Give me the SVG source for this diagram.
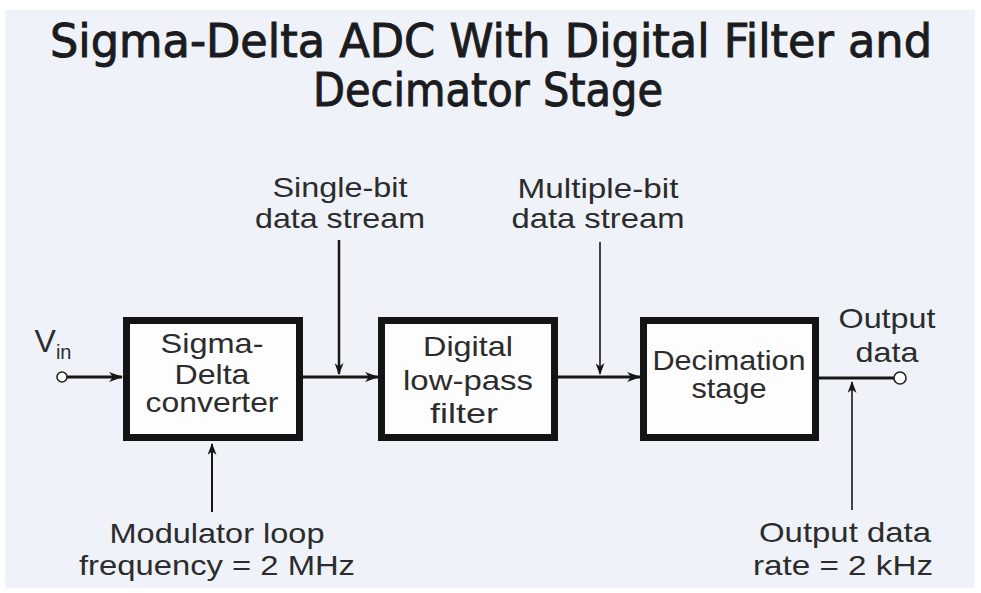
<svg xmlns="http://www.w3.org/2000/svg" width="981" height="593" viewBox="0 0 981 593">
  <style>
    .title { font-family: "DejaVu Sans Condensed", "Liberation Sans Narrow", "Liberation Sans", sans-serif; font-size: 46px; font-weight: normal; fill: #1c1c1e; stroke: #1c1c1e; stroke-width: 0.9; text-anchor: middle; }
    .lbl { font-family: "Liberation Sans", Arial, sans-serif; font-size: 28px; fill: #2c2c2c; text-anchor: middle; }
    .sub { font-size: 20px; }
    .box { fill: #fdfdfd; stroke: #141414; stroke-width: 7; }
    .wire { fill: none; stroke: #161616; stroke-linecap: butt; }
    .pin { fill: #ffffff; stroke: #222222; stroke-width: 1.6; }
  </style>
  <defs>
    <marker id="arr" viewBox="0 0 14 10" refX="13" refY="5" markerWidth="14" markerHeight="10" markerUnits="userSpaceOnUse" orient="auto">
      <path d="M0,0 L14,5 L0,10 L4,5 Z" fill="#161616"/>
    </marker>
    <marker id="arrS" viewBox="0 0 12 9" refX="11" refY="4.5" markerWidth="12" markerHeight="9" markerUnits="userSpaceOnUse" orient="auto">
      <path d="M0,0 L12,4.5 L0,9 L3.5,4.5 Z" fill="#161616"/>
    </marker>
  </defs>

  <!-- page background -->
  <rect x="0" y="0" width="981" height="593" fill="#ffffff"/>
  <rect x="5" y="10" width="970" height="578" fill="#eff3f9"/>

  <!-- heading -->
  <g id="title">
    <text class="title" x="491" y="57" textLength="882" lengthAdjust="spacingAndGlyphs">Sigma-Delta ADC With Digital Filter and</text>
    <text class="title" x="488" y="106" textLength="350" lengthAdjust="spacingAndGlyphs">Decimator Stage</text>
  </g>

  <!-- signal path and annotation arrows -->
  <g id="connectors">
    <line class="wire" x1="67" y1="377" x2="122" y2="377" stroke-width="3" marker-end="url(#arr)"/>
    <line class="wire" x1="303" y1="377" x2="378" y2="377" stroke-width="3" marker-end="url(#arr)"/>
    <line class="wire" x1="558" y1="377" x2="640" y2="377" stroke-width="3" marker-end="url(#arr)"/>
    <line class="wire" x1="819" y1="378" x2="894" y2="378" stroke-width="3"/>
    <line class="wire" x1="339" y1="240" x2="339" y2="374" stroke-width="2.5" marker-end="url(#arrS)"/>
    <line class="wire" x1="600" y1="242" x2="600" y2="374" stroke-width="1.6" marker-end="url(#arrS)"/>
    <line class="wire" x1="212" y1="512" x2="212" y2="444" stroke-width="2" marker-end="url(#arrS)"/>
    <line class="wire" x1="852" y1="510" x2="852" y2="382" stroke-width="1.6" marker-end="url(#arrS)"/>
    <circle class="pin" cx="62" cy="377" r="5"/>
    <circle class="pin" cx="900" cy="378" r="6"/>
  </g>

  <!-- input / output terminals -->
  <g id="vin">
    <text class="lbl" x="53" y="352" text-anchor="start" style="font-size:32px">V<tspan class="sub" dy="7">in</tspan></text>
  </g>
  <g id="output-data">
    <text class="lbl" x="887" y="328" textLength="97" lengthAdjust="spacingAndGlyphs">Output</text>
    <text class="lbl" x="887" y="362" textLength="63" lengthAdjust="spacingAndGlyphs">data</text>
  </g>

  <!-- processing blocks -->
  <g id="sigma-delta">
    <rect class="box" x="126.5" y="320.5" width="173" height="117"/>
    <text class="lbl" x="212" y="353" textLength="103" lengthAdjust="spacingAndGlyphs">Sigma-</text>
    <text class="lbl" x="212" y="384" textLength="75" lengthAdjust="spacingAndGlyphs">Delta</text>
    <text class="lbl" x="212" y="412" textLength="133" lengthAdjust="spacingAndGlyphs">converter</text>
  </g>
  <g id="lowpass">
    <rect class="box" x="381.5" y="320.5" width="173" height="117"/>
    <text class="lbl" x="468" y="356" textLength="90" lengthAdjust="spacingAndGlyphs">Digital</text>
    <text class="lbl" x="468" y="390" textLength="130" lengthAdjust="spacingAndGlyphs">low-pass</text>
    <text class="lbl" x="464" y="423" textLength="68" lengthAdjust="spacingAndGlyphs">filter</text>
  </g>
  <g id="decimation">
    <rect class="box" x="643.5" y="320.5" width="172" height="117"/>
    <text class="lbl" x="729" y="370" textLength="153" lengthAdjust="spacingAndGlyphs">Decimation</text>
    <text class="lbl" x="729" y="398" textLength="75" lengthAdjust="spacingAndGlyphs">stage</text>
  </g>

  <!-- annotations -->
  <g id="single-bit">
    <text class="lbl" x="340" y="197" textLength="135" lengthAdjust="spacingAndGlyphs">Single-bit</text>
    <text class="lbl" x="340" y="228" textLength="170" lengthAdjust="spacingAndGlyphs">data stream</text>
  </g>
  <g id="multiple-bit">
    <text class="lbl" x="598" y="198" textLength="161" lengthAdjust="spacingAndGlyphs">Multiple-bit</text>
    <text class="lbl" x="598" y="228" textLength="173" lengthAdjust="spacingAndGlyphs">data stream</text>
  </g>
  <g id="modulator">
    <text class="lbl" x="217" y="543" textLength="215" lengthAdjust="spacingAndGlyphs">Modulator loop</text>
    <text class="lbl" x="217" y="575" textLength="276" lengthAdjust="spacingAndGlyphs">frequency = 2 MHz</text>
  </g>
  <g id="output-rate">
    <text class="lbl" x="845" y="542" textLength="172" lengthAdjust="spacingAndGlyphs">Output data</text>
    <text class="lbl" x="843" y="575" textLength="180" lengthAdjust="spacingAndGlyphs">rate = 2 kHz</text>
  </g>
</svg>
